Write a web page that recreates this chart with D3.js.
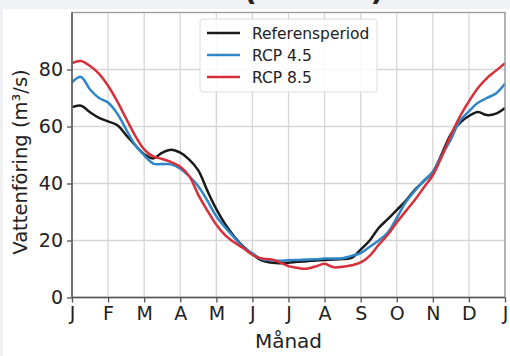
<!DOCTYPE html>
<html><head><meta charset="utf-8">
<script src="https://cdn.jsdelivr.net/npm/d3@7"></script>
<style>body{margin:0;background:#fff}svg{display:block;font-family:"DejaVu Sans",sans-serif}</style>
</head><body>
<svg id="c" width="510" height="356"></svg>
<script>
const monthLabels = ["J","F","M","A","M","J","J","A","S","O","N","D","J"];
const yTicks = [0,20,40,60,80];
const samplePos = [0,0.25,0.5,0.75,1,1.25,1.5,1.75,2,2.25,2.5,2.75,3,3.25,3.5,3.75,4,4.25,4.5,4.75,5,5.25,5.5,5.75,6,6.25,6.5,6.75,7,7.25,7.5,7.75,8,8.25,8.5,8.75,9,9.25,9.5,9.75,10,10.25,10.5,10.75,11,11.25,11.5,11.75,12];
const refValues = [66.8,67.3,65,63,61.8,60.5,57,53.5,50.3,48.8,50.8,51.8,50.8,48.4,44.6,37.5,31,25.6,21.3,17.8,15.2,13,12.3,12,12.2,12.5,12.7,13,13.2,13.3,13.5,13.9,16.8,20,24.4,27.5,30.7,33.9,37.8,40.8,44,50.4,57.3,61.3,63.7,65.1,64,64.5,66.5];
const rcp45Values = [75.5,77.4,73,70,68.4,64.6,59,53.5,49.9,47,46.8,46.7,45.2,42.5,39,34,28.5,24.5,21,17.5,15.5,13.5,13.1,12.9,13.1,13.2,13.3,13.4,13.7,13.7,13.8,14.6,15.6,17.8,20,22.8,27.9,33.4,37.4,41,44,49.9,55.5,62,65.3,68.3,70,71.6,75];
const rcp85Values = [82.2,83,81.2,78.5,74.3,68.9,62.8,56.8,52,49.5,48.6,47.5,45.9,42.6,36,30.5,25.5,21.8,19.3,17.3,15,13.7,13.4,12.4,11,10.4,10.1,10.9,11.8,10.6,10.8,11.3,12.3,14.6,18.5,22,26.3,30.3,34.2,38.6,42.9,49.5,57,63.5,68.8,73.5,77,79.6,82.2];
const seriesNames = ["Referensperiod","RCP 4.5","RCP 8.5"];
const seriesColors = ["#1a1a1a","#2f86c6","#d7303a"];

const svg = d3.select("#c");
const L = 72, R = 505, T = 12.5, B = 297.5;
const x = d3.scaleLinear().domain([0,12]).range([L,R]);
const y = d3.scaleLinear().domain([0,100]).range([B,T]);

// frame background strips
svg.append("rect").attr("x",0).attr("y",0).attr("width",510).attr("height",9).attr("fill","#f0f1f4");
svg.append("rect").attr("x",0).attr("y",0).attr("width",3).attr("height",356).attr("fill","#f0f1f4");

// cut-off title parentheses (title lies above the visible area, as in the reference)
svg.append("text").attr("x",250).attr("y",0).attr("font-size",30).attr("font-weight","bold").attr("fill","#222").attr("text-anchor","middle").text("(");
svg.append("text").attr("x",377).attr("y",0).attr("font-size",30).attr("font-weight","bold").attr("fill","#222").attr("text-anchor","middle").text(")");

// grid
const monthIdx = d3.range(monthLabels.length);
svg.append("g").selectAll("line").data(monthIdx).join("line")
  .attr("x1",d=>x(d)).attr("x2",d=>x(d)).attr("y1",T).attr("y2",B)
  .attr("stroke","#d6d6d6").attr("stroke-width",1.3);
svg.append("g").selectAll("line").data(yTicks).join("line")
  .attr("x1",L).attr("x2",R).attr("y1",d=>y(d)).attr("y2",d=>y(d))
  .attr("stroke","#d6d6d6").attr("stroke-width",1.3);

// lines
const allSeries = [refValues, rcp45Values, rcp85Values];
const line = d3.line().x((d,i)=>x(samplePos[i])).y(d=>y(d)).curve(d3.curveCatmullRom.alpha(0.5));
allSeries.forEach((vals,k)=>{
  svg.append("path").attr("d",line(vals)).attr("fill","none")
    .attr("stroke",seriesColors[k]).attr("stroke-width",2.5).attr("stroke-linejoin","round");
});

// spines
svg.append("rect").attr("x",L).attr("y",T).attr("width",R-L).attr("height",B-T)
  .attr("fill","none").attr("stroke","#9a9a9a").attr("stroke-width",1.3);
svg.append("line").attr("x1",L).attr("x2",L).attr("y1",T).attr("y2",B).attr("stroke","#555").attr("stroke-width",1.4);
svg.append("line").attr("x1",L).attr("x2",R).attr("y1",B).attr("y2",B).attr("stroke","#555").attr("stroke-width",1.4);

// axes
const xAxis = d3.axisBottom(x).tickValues(monthIdx).tickFormat(i=>monthLabels[i]).tickSize(5).tickPadding(4);
const gx = svg.append("g").attr("transform",`translate(0,${B})`).call(xAxis);
gx.select(".domain").remove();
gx.selectAll(".tick line").attr("stroke","#555").attr("stroke-width",1.3);
gx.selectAll(".tick text").attr("font-size",19).attr("fill","#222").attr("font-family","DejaVu Sans").attr("dy","0.72em");

const yAxis = d3.axisLeft(y).tickValues(yTicks).tickSize(5).tickPadding(4);
const gy = svg.append("g").attr("transform",`translate(${L},0)`).call(yAxis);
gy.select(".domain").remove();
gy.selectAll(".tick line").attr("stroke","#555").attr("stroke-width",1.3);
gy.selectAll(".tick text").attr("font-size",19).attr("fill","#222").attr("font-family","DejaVu Sans");

// axis labels
svg.append("text").attr("x",(L+R)/2).attr("y",348).attr("text-anchor","middle")
  .attr("font-size",20).attr("fill","#222").text("Månad");
svg.append("text").attr("transform","translate(27,162) rotate(-90)").attr("text-anchor","middle")
  .attr("font-size",19.5).attr("fill","#222").text("Vattenföring (m³/s)");

// legend
const lg = svg.append("g");
lg.append("rect").attr("x",200).attr("y",19).attr("width",177).attr("height",73).attr("rx",3)
  .attr("fill","#fff").attr("fill-opacity",0.85).attr("stroke","#dcdcdc").attr("stroke-width",1);
const rowY = [33,55,77];
seriesNames.forEach((nm,k)=>{
  lg.append("line").attr("x1",207).attr("x2",240).attr("y1",rowY[k]).attr("y2",rowY[k])
    .attr("stroke",seriesColors[k]).attr("stroke-width",2.6);
  lg.append("text").attr("x",252).attr("y",rowY[k]).attr("dy","0.36em").attr("font-size",15.5)
    .attr("fill","#222").text(nm);
});
</script>
</body></html>
